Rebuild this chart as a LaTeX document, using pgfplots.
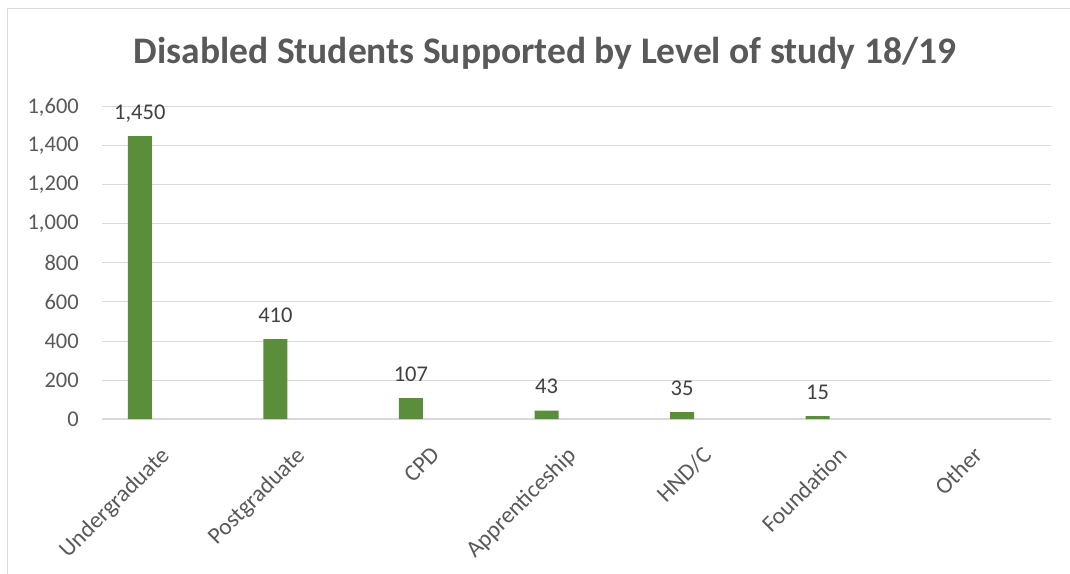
\documentclass[border=0pt]{standalone}
\usepackage{fontspec}
\setmainfont{Carlito}
\usepackage{pgfplots}
\pgfplotsset{compat=1.18}
\definecolor{bargreen}{HTML}{5B8E3A}
\definecolor{gridgray}{HTML}{D9D9D9}
\definecolor{txtgray}{HTML}{595959}
\definecolor{lblgray}{HTML}{404040}
\begin{document}
\begin{tikzpicture}
\useasboundingbox (0pt,0pt) rectangle (1070pt,573pt);
\draw[gridgray, line width=1pt] (7.5pt,-10pt) -- (7.5pt,564pt) -- (1090pt,564pt);
\node[font=\fontsize{37.5}{44}\selectfont\bfseries, text=txtgray] at (545pt,520pt) {Disabled Students Supported by Level of study 18/19};
\begin{axis}[
  at={(102pt,154pt)}, anchor=south west, scale only axis,
  width=949pt, height=312pt,
  xmin=0, xmax=7, ymin=0, ymax=1600,
  ytick={0,200,...,1600},
  xtick={0.5,1.5,...,6.5},
  xticklabels={Undergraduate,Postgraduate,CPD,Apprenticeship,HND/C,Foundation,Other},
  axis x line=bottom, axis y line=left,
  x axis line style={draw=gridgray, line width=1.2pt, -},
  y axis line style={draw=none},
  major tick length=0pt, tick style={draw=none},
  ymajorgrids, grid style={draw=gridgray, line width=1pt},
  /pgf/number format/assume math mode=true,
  /pgf/number format/1000 sep={,},
  ticklabel style={text=txtgray},
  yticklabel style={font=\fontsize{22.5}{26}\selectfont, anchor=east, inner sep=0pt, xshift=-23pt},
  xticklabel style={font=\fontsize{23.5}{28}\selectfont, xshift=-11pt, yshift=-26pt, rotate=45, anchor=north east, inner sep=0pt},
  clip=false,
]
\addplot[ybar, bar width=24pt, bar shift=-30pt, fill=bargreen, draw=none,
  nodes near coords,
  every node near coord/.append style={font=\fontsize{22.5}{26}\selectfont, text=lblgray, anchor=base, inner sep=0pt, xshift=-30pt, yshift=17pt}]
  coordinates {(0.5,1450) (1.5,410) (2.5,107) (3.5,43) (4.5,35) (5.5,15)};
\end{axis}
\end{tikzpicture}
\end{document}
